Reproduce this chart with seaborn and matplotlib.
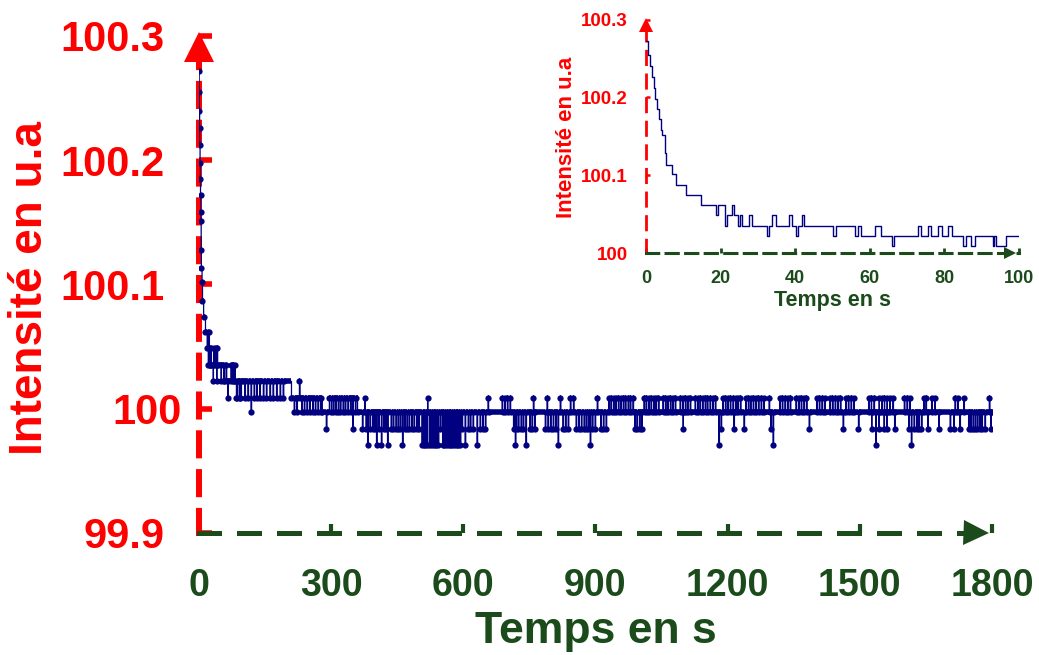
import numpy as np
import pandas as pd
import matplotlib
matplotlib.use('Agg')
import matplotlib.pyplot as plt
import matplotlib.transforms as mtransforms
import seaborn as sns

# ---- values ----
# first 100 s, change points of the stepped signal (read mostly on the inset)
t_early = [0.0, 0.5, 1.0, 1.5, 2.0, 2.5, 3.0, 3.5, 4.0, 4.4, 5.0, 5.4, 7.0, 8.0,
           10.6, 14.8, 18.8, 19.4, 21.2, 21.8, 23.1, 23.7, 24.6, 25.1, 25.6, 27.7,
           28.3, 32.3, 32.9, 33.8, 34.8, 38.2, 39.1, 40.2, 40.8, 41.7, 42.4, 50.2,
           51.0, 56.0, 56.9, 57.7, 61.3, 63.0, 65.9, 66.5, 72.8, 73.7, 75.6, 76.5,
           78.3, 79.4, 81.0, 82.0, 85.0, 85.9, 87.2, 88.3, 93.0, 93.4, 93.9, 96.5]
v_early = [100.272, 100.255, 100.240, 100.226, 100.212, 100.198, 100.185, 100.172,
           100.158, 100.151, 100.128, 100.113, 100.102, 100.087, 100.074, 100.062,
           100.049, 100.062, 100.035, 100.049, 100.062, 100.049, 100.035, 100.049,
           100.035, 100.049, 100.035, 100.022, 100.035, 100.049, 100.035, 100.049,
           100.035, 100.022, 100.035, 100.049, 100.035, 100.022, 100.035, 100.022,
           100.035, 100.022, 100.035, 100.022, 100.009, 100.022, 100.035, 100.022,
           100.035, 100.022, 100.035, 100.022, 100.035, 100.022, 100.009, 100.022,
           100.009, 100.022, 100.009, 100.022, 100.009, 100.022]

# plateau the signal sits on after 100 s (start time, level)
base_t = [100, 210, 280, 296, 360]
base_v = [100.022, 100.009, 99.997, 100.009, 99.997]
t_end = 1800

# single-sample excursions away from the plateau, grouped by the level reached
spk_100_022 = [228]
spk_100_009 = [104, 111, 125, 131, 138, 146, 153, 161, 168, 176, 184, 191,
               376, 519, 656, 688, 694, 700, 706, 759, 790, 820, 843, 850, 904,
               930, 935, 941, 946, 952, 957, 963, 968, 974, 979, 985,
               1010, 1015, 1021, 1026, 1032, 1037, 1043, 1053, 1059, 1064, 1070,
               1075, 1081, 1092, 1098, 1104, 1109, 1115, 1126, 1132, 1137, 1143,
               1149, 1154, 1160, 1166, 1172,
               1189, 1195, 1200, 1206, 1212, 1218, 1223, 1229, 1241, 1247, 1252,
               1258, 1264, 1270, 1276, 1282, 1294,
               1318, 1324, 1330, 1336, 1342, 1355, 1361, 1367, 1373, 1379,
               1402, 1408, 1414, 1420, 1432, 1438, 1444, 1450, 1456, 1468, 1474,
               1480, 1486,
               1520, 1526, 1532, 1544, 1550, 1556, 1562, 1568, 1575,
               1601, 1607, 1613, 1645, 1650, 1663, 1670, 1716, 1722, 1736, 1794]
spk_99_997 = [118, 216, 222, 233, 239, 245, 251, 258, 264, 270, 276,
              300, 305, 310, 316, 321, 327, 332, 338, 344, 355]
spk_99_984 = [289, 349,
              371, 379, 388, 394, 399, 408, 419, 424, 436, 441, 447, 452, 457,
              467, 472, 477, 483, 488, 494, 499, 548, 597, 611, 616, 622, 638,
              644, 650, 714, 720, 725, 731, 736, 751, 756, 762, 786, 792, 798,
              804, 810, 826, 832, 838, 856, 862, 868, 874, 879, 884, 893, 899,
              912, 918, 924, 989, 994, 1000, 1005, 1099, 1185, 1214, 1237, 1298,
              1385, 1462, 1497, 1527, 1543, 1555, 1561, 1579, 1611, 1623, 1629,
              1634, 1640, 1654, 1679, 1705, 1713, 1727, 1747, 1752, 1757, 1762,
              1767, 1772, 1777, 1784, 1797]
spk_99_971 = [383, 403, 414, 428, 462, 506, 510, 514, 518, 523, 527, 531, 535,
              539, 543, 553, 557, 561, 565, 569, 573, 577, 581, 585, 589, 593,
              604, 631, 718, 742, 815, 888, 1180, 1303, 1536, 1617]

x_ticks_main = [0, 300, 600, 900, 1200, 1500, 1800]
y_ticks_main = [99.9, 100, 100.1, 100.2, 100.3]
y_labels_main = ['99.9', '100', '100.1', '100.2', '100.3']
x_ticks_inset = [0, 20, 40, 60, 80, 100]
y_ticks_inset = [100, 100.1, 100.2, 100.3]
y_labels_inset = ['100', '100.1', '100.2', '100.3']

RED = '#ff0000'
GREEN = '#1b4a1b'
NAVY = '#000080'


def build_signal():
    pts = list(zip(t_early, v_early)) + list(zip(base_t, base_v))
    groups = [(100.022, spk_100_022), (100.009, spk_100_009), (99.997, spk_99_997),
              (99.984, spk_99_984), (99.971, spk_99_971)]
    for lvl, times in groups:
        for t in times:
            i = np.searchsorted(base_t, t, side='right') - 1
            pts.append((t, lvl))
            pts.append((t + 1.5, base_v[i]))
    pts.append((t_end, base_v[-1]))
    df = pd.DataFrame(pts, columns=['temps', 'intensite'])
    return df.sort_values('temps', kind='stable').reset_index(drop=True)


def style_axes(a, lw_y, dash_y, lw_x, dash_x, ytick, xtick, ypad, xpad, ysize, xsize):
    a.spines['top'].set_visible(False)
    a.spines['right'].set_visible(False)
    a.spines['left'].set(color=RED, linewidth=lw_y, linestyle=(0, dash_y))
    a.spines['bottom'].set(color=GREEN, linewidth=lw_x, linestyle=(0, dash_x))
    a.tick_params(axis='y', left=True, direction='in', length=ytick[0], width=ytick[1],
                  color=RED, labelcolor=RED, pad=ypad, labelsize=ysize)
    a.tick_params(axis='x', bottom=True, direction='in', length=xtick[0], width=xtick[1],
                  color=GREEN, labelcolor=GREEN, pad=xpad, labelsize=xsize)
    a.grid(False)
    a.set_facecolor('none')


sns.set_style('white')
plt.rcParams['font.family'] = ['Liberation Sans', 'DejaVu Sans']
plt.rcParams['font.weight'] = 'bold'
plt.rcParams['axes.labelweight'] = 'bold'

df = build_signal()

fig = plt.figure(figsize=(10.39, 6.55), dpi=100)
ax = fig.add_axes([0.1915, 0.1863, 0.7632, 0.7588])
axin = fig.add_axes([0.6218, 0.6137, 0.359, 0.3565])

# ---- main chart ----
sns.lineplot(data=df, x='temps', y='intensite', ax=ax, drawstyle='steps-post',
             estimator=None, sort=False, color=NAVY, lw=0.9, marker='o',
             markersize=4.5, markeredgewidth=0, zorder=3)
tt = df['temps'].to_numpy()
vv = df['intensite'].to_numpy()
ax.hlines(vv[:-1], tt[:-1], tt[1:], color=NAVY, lw=4, zorder=3)

ax.set_xlim(0, 1800)
ax.set_ylim(99.9, 100.3)
ax.set_xticks(x_ticks_main)
ax.set_xticklabels([str(v) for v in x_ticks_main])
ax.set_yticks(y_ticks_main)
ax.set_yticklabels(y_labels_main)
style_axes(ax, 4.3, (3.7, 2.8), 3.6, (4.0, 4.0), (9.5, 4), (6.5, 3), 24.5, 25, 30, 27)
ax.set_xlabel('Temps en s', color=GREEN, fontsize=32)
ax.xaxis.set_label_coords(0.5, -0.157)
ax.set_ylabel('Intensité en u.a', color=RED, fontsize=33, va='center')
ax.yaxis.set_label_coords(-0.213, 0.493)
ax.plot([0], [100.291], marker='^', ms=21, color=RED, mew=0, clip_on=False, zorder=4)
ax.plot([1764], [99.9], marker='>', ms=18, color=GREEN, mew=0, clip_on=False, zorder=4)

# "100" sits a little further right than the other labels
lab100 = ax.yaxis.get_major_ticks()[1].label1
lab100.set_transform(lab100.get_transform() +
                     mtransforms.ScaledTranslation(0.17, 0, fig.dpi_scale_trans))

# ---- inset: zoom on the first 100 s ----
sub = df[df['temps'] <= 110]
sns.lineplot(data=sub, x='temps', y='intensite', ax=axin, drawstyle='steps-post',
             estimator=None, sort=False, color=NAVY, lw=1.0, zorder=3)
axin.set_xlim(0, 100)
axin.set_ylim(100, 100.3)
axin.set_xticks(x_ticks_inset)
axin.set_xticklabels([str(v) for v in x_ticks_inset])
axin.set_yticks(y_ticks_inset)
axin.set_yticklabels(y_labels_inset)
style_axes(axin, 2.0, (4.8, 3.7), 2.2, (4.0, 2.4), (3, 1.8), (3.5, 2), 13, 12, 13.5, 13)
axin.set_xlabel('Temps en s', color=GREEN, fontsize=15.5)
axin.xaxis.set_label_coords(0.499, -0.158)
axin.set_ylabel('Intensité en u.a', color=RED, fontsize=16, va='center')
axin.yaxis.set_label_coords(-0.212, 0.497)
axin.plot([0], [100.293], marker='^', ms=10, color=RED, mew=0, clip_on=False, zorder=4)
axin.plot([97.6], [100], marker='>', ms=9, color=GREEN, mew=0, clip_on=False, zorder=4)

fig.savefig('out.png', dpi=100)
